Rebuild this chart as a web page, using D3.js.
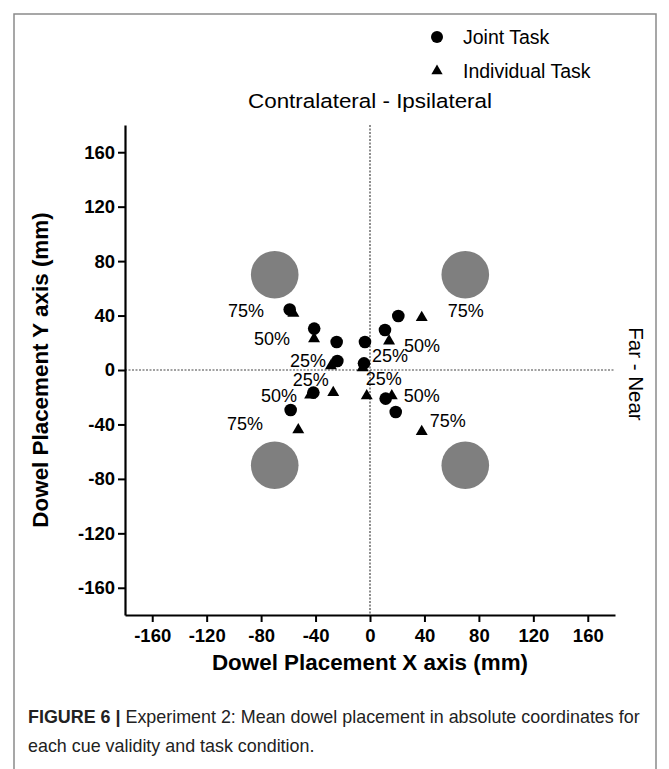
<!DOCTYPE html>
<html><head><meta charset="utf-8">
<script src="https://cdn.jsdelivr.net/npm/d3@7"></script>
<style>html,body{margin:0;padding:0;background:#fff;} svg{display:block;font-family:"Liberation Sans",Arial,sans-serif;}</style>
</head><body>
<script>
// ---- data ----
const xTicks = [-160,-120,-80,-40,0,40,80,120,160];
const yTicks = [-160,-120,-80,-40,0,40,80,120,160];
const jointX = [-59,-41,-24.5,-24,-3.7,-4.4,11,20.8,-41.6,-58.3,11.5,18.9];
const jointY = [44.5,30.4,20.6,6.6,20.6,4.9,29.4,39.7,-16.6,-29.4,-21,-30.9];
const indivX = [-56.3,-41.1,-28.7,-5.4,14,38,-44,-27,-2.4,16,-52.7,38];
const indivY = [41.7,23,3,1.7,21.3,38.5,-18.4,-16.6,-19,-19,-44,-45.3];
const dowelX = [-70,70,-70,70];
const dowelY = [70,70,-70,-70];
const dowelRadius = 17.5;
const labelText = ["75%","50%","25%","25%","50%","75%","25%","50%","75%","25%","50%","75%"];
const labelX = [-91.1,-72,-45.5,-43.6,-66.9,-91.8,14.7,38.2,70.3,10.1,38,57.1];
const labelY = [43.3,22.8,6.8,-6.8,-18.9,-39.7,10.3,17.6,43.6,-6.6,-18.9,-37.5];
const legendLabels = ["Joint Task","Individual Task"];

const W=669,H=769;
const svg=d3.select("body").append("svg").attr("width",W).attr("height",H);
svg.append("rect").attr("width",W).attr("height",H).attr("fill","#fff");
// frame
svg.append("rect").attr("x",14).attr("y",14).attr("width",642).attr("height",800)
  .attr("fill","none").attr("stroke","#8a8a8a").attr("stroke-width",1.5);

const x=d3.scaleLinear().domain([-180,180]).range([125,615]);
const y=d3.scaleLinear().domain([-180,180]).range([615,125]);

// dotted zero lines
svg.append("line").attr("x1",x(-180)).attr("x2",x(180)).attr("y1",y(0)).attr("y2",y(0))
  .attr("stroke","#444").attr("stroke-width",1.2).attr("stroke-dasharray","2,1.5");
svg.append("line").attr("x1",x(0)).attr("x2",x(0)).attr("y1",y(180)).attr("y2",y(-180))
  .attr("stroke","#444").attr("stroke-width",1.2).attr("stroke-dasharray","2,1.5");

// axes
const fmt=d=>String(d);
const gx=svg.append("g").attr("transform",`translate(0,${y(-180)})`)
  .call(d3.axisBottom(x).tickValues(xTicks).tickFormat(fmt).tickSize(7).tickSizeOuter(0).tickPadding(7));
const gy=svg.append("g").attr("transform",`translate(${x(-180)},0)`)
  .call(d3.axisLeft(y).tickValues(yTicks).tickFormat(fmt).tickSize(7).tickSizeOuter(0).tickPadding(3));
[gx,gy].forEach(g=>{
  g.select(".domain").attr("stroke","#000").attr("stroke-width",2.2);
  g.selectAll(".tick line").attr("stroke","#000").attr("stroke-width",2);
  g.selectAll(".tick text").attr("fill","#000").attr("font-size",18.5).attr("font-weight","bold")
    .attr("font-family","'Liberation Sans',Arial,sans-serif");
});

// dowels
svg.append("g").selectAll("circle").data(dowelX).join("circle")
  .attr("cx",(d)=>x(d)).attr("cy",(d,i)=>y(dowelY[i]))
  .attr("r",x(dowelRadius)-x(0)).attr("fill","#7f7f7f");

// points
const tri=d3.symbol().type(d3.symbolTriangle).size(62);
svg.append("g").selectAll("path").data(indivX).join("path")
  .attr("d",tri).attr("transform",(d,i)=>`translate(${x(d)},${y(indivY[i])})`).attr("fill","#000");
svg.append("g").selectAll("circle").data(jointX).join("circle")
  .attr("cx",d=>x(d)).attr("cy",(d,i)=>y(jointY[i])).attr("r",6.3).attr("fill","#000");

// percent labels
svg.append("g").selectAll("text").data(labelText).join("text")
  .attr("x",(d,i)=>x(labelX[i])).attr("y",(d,i)=>y(labelY[i])).attr("dy","0.35em")
  .attr("text-anchor","middle").attr("font-size",18).text(d=>d);

// legend
const lg=svg.append("g");
lg.append("circle").attr("cx",437).attr("cy",37).attr("r",6).attr("fill","#000");
lg.append("path").attr("d",d3.symbol().type(d3.symbolTriangle).size(55)).attr("transform","translate(437,71)").attr("fill","#000");
lg.selectAll("text").data(legendLabels).join("text")
  .attr("x",463).attr("y",(d,i)=>37+i*34).attr("dy","0.35em").attr("font-size",19.5).text(d=>d);

// side labels
svg.append("text").attr("x",x(0)).attr("y",108).attr("text-anchor","middle").attr("font-size",20.5)
  .attr("textLength",244).attr("lengthAdjust","spacingAndGlyphs")
  .text("Contralateral - Ipsilateral");
svg.append("text").attr("transform",`translate(629,${y(0)+4}) rotate(90)`).attr("text-anchor","middle")
  .attr("font-size",20.5).text("Far - Near");

// axis titles
svg.append("text").attr("x",x(0)).attr("y",670).attr("text-anchor","middle").attr("font-size",22.4)
  .attr("font-weight","bold").text("Dowel Placement X axis (mm)");
svg.append("text").attr("transform",`translate(48,${y(0)}) rotate(-90)`).attr("text-anchor","middle")
  .attr("font-size",22.4).attr("font-weight","bold").text("Dowel Placement Y axis (mm)");

// caption
const c1=svg.append("text").attr("x",28).attr("y",723).attr("font-size",17.9).attr("fill","#222");
c1.append("tspan").attr("font-weight","bold").text("FIGURE 6 | ");
c1.append("tspan").text("Experiment 2: Mean dowel placement in absolute coordinates for");
svg.append("text").attr("x",28).attr("y",752).attr("font-size",17.9).attr("fill","#222")
  .text("each cue validity and task condition.");
</script>
</body></html>
